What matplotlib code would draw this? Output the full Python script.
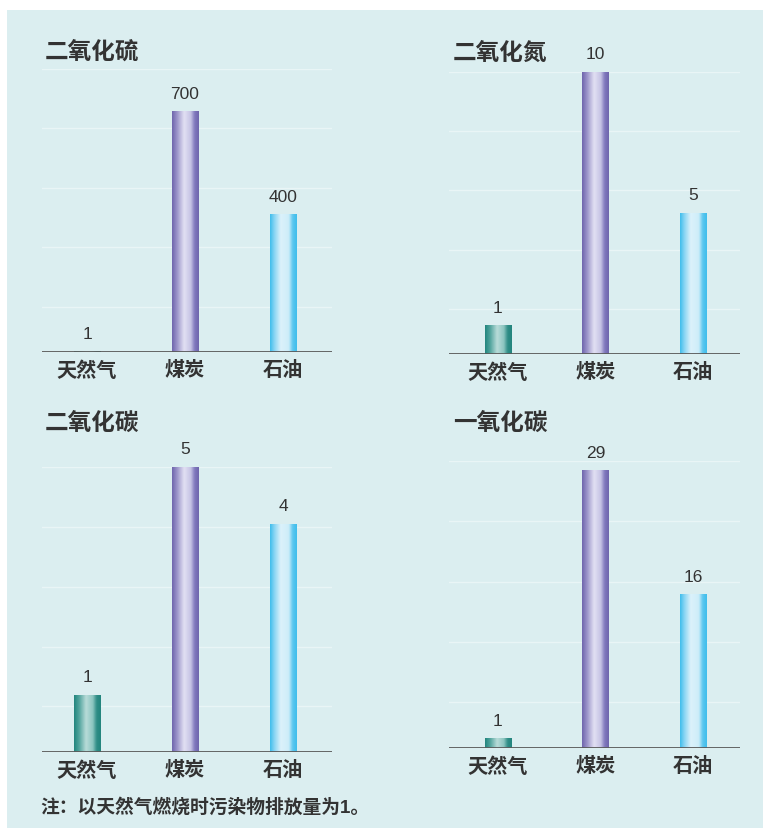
#!/usr/bin/env python3
''' pollutant emissions of natural gas / coal / oil, four small bar panels '''

import matplotlib
matplotlib.use('Agg')
import matplotlib.pyplot as plt
import numpy as np
from matplotlib.colors import LinearSegmentedColormap
from matplotlib.patches import Rectangle

plt.rcParams['font.family'] = ['Liberation Sans', 'Noto Sans CJK SC', 'DejaVu Sans']

# data
fuels = ['天然气', '煤炭', '石油']
titles = ['二氧化硫', '二氧化氮', '二氧化碳', '一氧化碳']
so2 = [1, 700, 400]
no2 = [1, 10, 5]
co2 = [1, 5, 4]
co = [1, 29, 16]
panel_values = [so2, no2, co2, co]
panel_ymax = [825, 10, 5, 30]
note = '注：以天然气燃烧时污染物排放量为1。'

W, H = 765, 829
BG = '#dbeef0'
TXT = '#333333'

# edge colour / centre colour for each fuel
bar_cmaps = [
    LinearSegmentedColormap.from_list('gas', [(0, '#23857e'), (0.18, '#4fa39c'), (0.45, '#b9dcd9'),
                                              (0.7, '#8cc5c0'), (0.85, '#2f8d86'), (1, '#23857e')]),
    LinearSegmentedColormap.from_list('coal', [(0, '#6f65ad'), (0.18, '#9a93c9'), (0.45, '#e2e1f3'),
                                               (0.7, '#c6c3e5'), (0.85, '#8079bd'), (1, '#6f65ad')]),
    LinearSegmentedColormap.from_list('oil', [(0, '#3fbdec'), (0.15, '#86d4f3'), (0.4, '#dcf2fb'),
                                              (0.7, '#cdedf9'), (0.85, '#5cc7ef'), (1, '#3fbdec')]),
]
grad = np.linspace(0, 1, 64).reshape(1, -1)


def px_axes(fig, left, top, right, bottom):
    ''' add axes given in pixel coordinates (y from top) '''
    return fig.add_axes([left / W, 1 - bottom / H, (right - left) / W, (bottom - top) / H])


fig = plt.figure(figsize=(W / 100, H / 100), dpi=100, facecolor='white')
fig.patches.append(Rectangle((7 / W, 0), 756 / W, 1 - 11 / H, transform=fig.transFigure,
                             facecolor=BG, edgecolor='none', zorder=-10))

# pixel boxes: left, top, right, baseline
boxes = [(42, 70, 332, 353), (449, 73, 740, 355), (42, 468, 332, 753), (449, 462, 740, 749)]
xlims = [(-0.46, 2.5), (-0.5, 2.48), (-0.46, 2.5), (-0.5, 2.48)]
title_pos = [(45, 52), (453, 53), (45, 423), (453, 423)]

for i, (vals, ymax) in enumerate(zip(panel_values, panel_ymax)):
    ax = px_axes(fig, *boxes[i])
    ax.set_facecolor('none')
    x = np.arange(len(fuels))
    bars = ax.bar(x, vals, width=0.27, color='none', zorder=3)
    for j, b in enumerate(bars):
        ax.imshow(grad, extent=[b.get_x(), b.get_x() + b.get_width(), 0, b.get_height()],
                  aspect='auto', cmap=bar_cmaps[j], zorder=3, interpolation='bicubic')
        ax.annotate(str(vals[j]), (b.get_x() + b.get_width() / 2, b.get_height()),
                    xytext=(0, 13), textcoords='offset points', ha='center', va='center',
                    fontsize=12.5, color=TXT)
    for k in range(5):
        ax.axhline(ymax * (1 - 0.21 * k), color='#e9f5f6', lw=1.0, zorder=1)
    ax.axhline(0, color='#5a5a5a', lw=1.3, zorder=4)
    ax.set_xlim(*xlims[i])
    ax.set_ylim(0, ymax)
    ax.set_yticks([])
    ax.set_xticks(x)
    ax.set_xticklabels(fuels, fontsize=14.5, color=TXT, fontweight='bold')
    ax.tick_params(axis='x', length=0, pad=6)
    for s in ax.spines.values():
        s.set_visible(False)
    tx, ty = title_pos[i]
    fig.text(tx / W, 1 - ty / H, titles[i], fontsize=17, color=TXT, fontweight='bold',
             ha='left', va='center')

fig.text(40 / W, 1 - 807 / H, note, fontsize=13.5, color=TXT, fontweight='bold',
         ha='left', va='center')

fig.savefig('out.png', dpi=100, facecolor='white')
